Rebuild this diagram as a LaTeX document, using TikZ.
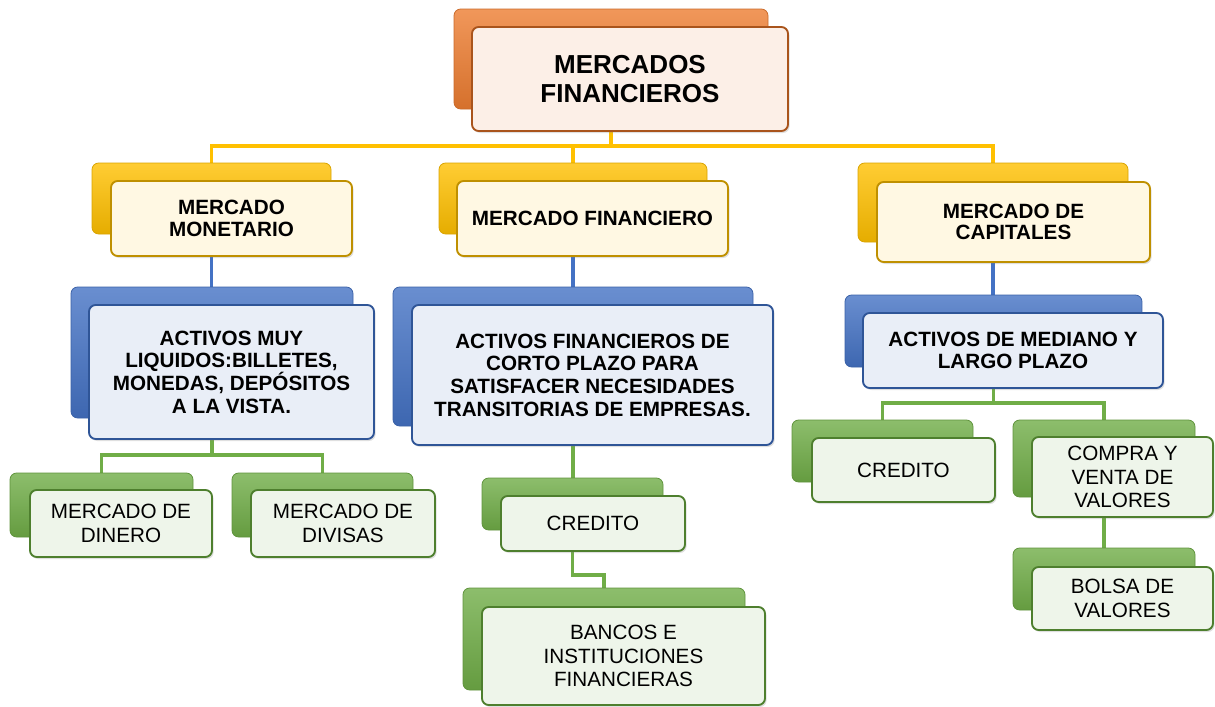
\documentclass[tikz,border=0pt]{standalone}
\usepackage{fontspec}
\setmainfont{Liberation Sans}
\usetikzlibrary{backgrounds,shadows}
\definecolor{orgB}{HTML}{ED7D31}\definecolor{orgF}{HTML}{FCEFE7}\definecolor{orgD}{HTML}{A9541C}
\definecolor{yelB}{HTML}{FFC000}\definecolor{yelF}{HTML}{FFF8E3}\definecolor{yelD}{HTML}{BF9000}
\definecolor{bluB}{HTML}{4472C4}\definecolor{bluF}{HTML}{E9EEF7}\definecolor{bluD}{HTML}{2F5597}
\definecolor{grnB}{HTML}{70AD47}\definecolor{grnF}{HTML}{EEF5EA}\definecolor{grnD}{HTML}{4E7F2E}
\tikzset{
  backbox/.style={rounded corners=5pt, draw=#1!85!black, line width=0.6pt,
    top color=#1!80!white, middle color=#1, bottom color=#1!90!black, inner sep=0pt},
  frontbox/.style={rounded corners=5pt, draw=#1, line width=1.4pt, inner sep=2pt,
    align=center, text=black,
    drop shadow={shadow xshift=1.2pt, shadow yshift=-1.5pt, opacity=0.25}},
  lvlzero/.style={frontbox=orgD, fill=orgF, font=\fontsize{19.5}{21.75}\selectfont\bfseries},
  lvlone/.style={frontbox=yelD, fill=yelF, font=\fontsize{15.5}{16.2}\selectfont\bfseries},
  lvltwo/.style={frontbox=bluD, fill=bluF, font=\fontsize{15.5}{17}\selectfont\bfseries},
  lvlthree/.style={frontbox=grnD, fill=grnF, font=\fontsize{15.5}{17.5}\selectfont},
  conn/.style={line width=2.5pt, draw=#1},
}
\newcommand\backbx[6]{%
  \node[backbox=#6, minimum width={(#4-#2)*0.75pt}, minimum height={(#5-#3)*0.75pt}]
    (#1) at ({(#2+#4)/2},{(#3+#5)/2}) {};}
\newcommand\frontbx[7]{%
  \node[#6, minimum width={(#4-#2)*0.75pt}, minimum height={(#5-#3)*0.75pt}]
    (#1) at ({(#2+#4)/2},{(#3+#5)/2}) {#7};}
\begin{document}
\begin{tikzpicture}[x=0.75pt,y=-0.75pt]
\useasboundingbox (0,0) rectangle (1215,707);
% level 0
\backbx{topB}{454}{9}{768}{109}{orgB}
\frontbx{top}{472}{27}{788}{131}{lvlzero}{MERCADOS\\FINANCIEROS}
% level 1
\backbx{monB}{92}{163}{331}{234}{yelB}
\frontbx{mon}{111}{181}{352}{256}{lvlone}{MERCADO\\MONETARIO}
\backbx{finB}{439}{163}{707}{234}{yelB}
\frontbx{fin}{457}{181}{728}{256}{lvlone}{MERCADO FINANCIERO}
\backbx{capB}{858}{163}{1128}{242}{yelB}
\frontbx{cap}{877}{182}{1150}{262}{lvlone}{MERCADO DE\\CAPITALES}
% level 2
\backbx{liqB}{71}{287}{353}{418}{bluB}
\frontbx{liq}{89}{305}{374}{439}{lvltwo}{ACTIVOS MUY\\LIQUIDOS:BILLETES,\\MONEDAS, DEPÓSITOS\\A LA VISTA.}
\backbx{fcpB}{393}{287}{753}{426}{bluB}
\frontbx{fcp}{412}{305}{773}{445}{lvltwo}{ACTIVOS FINANCIEROS DE\\CORTO PLAZO PARA\\SATISFACER NECESIDADES\\TRANSITORIAS DE EMPRESAS.}
\backbx{medB}{845}{295}{1142}{367}{bluB}
\frontbx{med}{863}{313}{1163}{388}{lvltwo}{ACTIVOS DE MEDIANO Y\\LARGO PLAZO}
% level 3
\backbx{dinB}{10}{473}{193}{537}{grnB}
\frontbx{din}{30}{490}{212}{557}{lvlthree}{MERCADO DE\\DINERO}
\backbx{divB}{232}{473}{413}{537}{grnB}
\frontbx{div}{251}{490}{435}{557}{lvlthree}{MERCADO DE\\DIVISAS}
\backbx{creaB}{482}{478}{663}{530}{grnB}
\frontbx{crea}{501}{496}{685}{551}{lvlthree}{CREDITO}
\backbx{banB}{463}{588}{745}{690}{grnB}
\frontbx{ban}{482}{607}{765}{705}{lvlthree}{BANCOS E\\INSTITUCIONES\\FINANCIERAS}
\backbx{crebB}{792}{420}{973}{482}{grnB}
\frontbx{creb}{812}{438}{995}{502}{lvlthree}{CREDITO}
\backbx{cvaB}{1013}{420}{1195}{497}{grnB}
\frontbx{cva}{1032}{437}{1213}{517}{lvlthree}{COMPRA Y\\VENTA DE\\VALORES}
\backbx{bolB}{1013}{548}{1195}{610}{grnB}
\frontbx{bol}{1032}{567}{1213}{630}{lvlthree}{BOLSA DE\\VALORES}
% connectors
\begin{pgfonlayer}{background}
\coordinate (busA) at (0,146);
\coordinate (busB) at (0,455);
\coordinate (busC) at (0,575);
\coordinate (busD) at (0,403);
\draw[conn=yelB] (topB.south) -- (topB.south |- busA) -| (monB.north);
\draw[conn=yelB] (topB.south |- busA) -| (finB.north);
\draw[conn=yelB] (topB.south |- busA) -| (capB.north);
\draw[conn=bluB] (monB.south) -- (monB.south |- liqB.north);
\draw[conn=bluB] (finB.south) -- (finB.south |- fcpB.north);
\draw[conn=bluB] (capB.south) -- (capB.south |- medB.north);
\draw[conn=grnB] (liqB.south) -- (liqB.south |- busB) -| (dinB.north);
\draw[conn=grnB] (liqB.south |- busB) -| (divB.north);
\draw[conn=grnB] (fcpB.south) -- (fcpB.south |- creaB.north);
\draw[conn=grnB] (creaB.south) -- (creaB.south |- busC) -| (banB.north);
\draw[conn=grnB] (medB.south) -- (medB.south |- busD) -| (crebB.north);
\draw[conn=grnB] (medB.south |- busD) -| (cvaB.north);
\draw[conn=grnB] (cvaB.south) -- (bolB.north);
\end{pgfonlayer}
\end{tikzpicture}
\end{document}
